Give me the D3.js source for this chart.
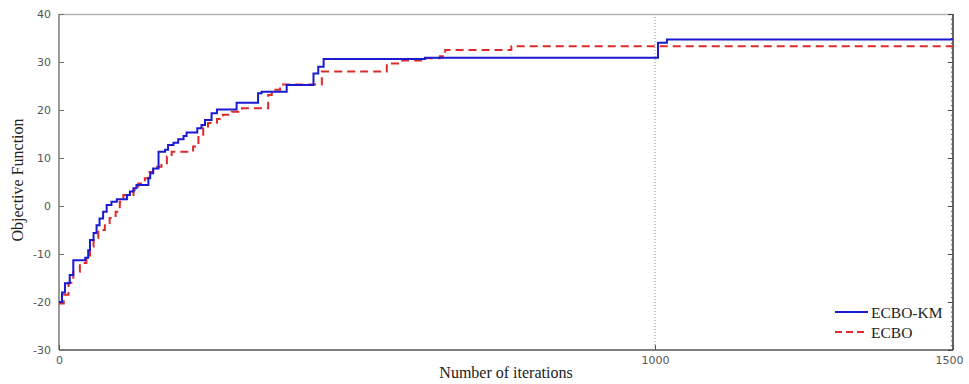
<!DOCTYPE html>
<html>
<head>
<meta charset="utf-8">
<script src="https://cdn.jsdelivr.net/npm/d3@7"></script>
<style>
  html, body { margin: 0; padding: 0; background: #fff; }
  svg { display: block; }
</style>
</head>
<body>
<svg id="chart" width="969" height="384"></svg>
<script>
// ---- data ----
const xTicks = [0, 1000, 1500];
const yTicks = [-30, -20, -10, 0, 10, 20, 30, 40];
const seriesNames = ["ECBO-KM", "ECBO"];

const ecboKmIter = [0, 5, 10, 18, 24, 44, 49, 52, 58, 63, 68, 74, 80, 88, 97, 114, 119, 125, 130, 150, 153, 158, 167, 178, 183, 192, 200, 209, 214, 232, 239, 245, 256, 265, 298, 334, 340, 382, 427, 435, 444, 614, 1005, 1020, 1500];
const ecboKmVal  = [-20, -18, -16.1, -14.4, -11.3, -10.8, -9.2, -7.1, -5.6, -4.0, -2.6, -1.2, 0.2, 0.9, 1.4, 2.3, 3.0, 3.7, 4.4, 5.8, 6.8, 7.8, 11.3, 11.7, 12.7, 13.2, 13.9, 14.6, 15.3, 16.2, 16.9, 17.9, 19.3, 20.1, 21.5, 23.5, 23.8, 25.2, 27.6, 29.0, 30.6, 30.9, 34.0, 34.7, 34.7];

const ecboIter = [0, 8, 16, 24, 35, 46, 52, 58, 66, 77, 85, 95, 102, 108, 125, 133, 144, 150, 158, 172, 181, 189, 225, 234, 242, 250, 265, 275, 290, 307, 351, 357, 371, 441, 550, 572, 614, 639, 648, 759, 1500];
const ecboVal  = [-20.3, -18.5, -16, -13.7, -11.9, -10.6, -8.5, -7.1, -5, -4, -2.5, -1.2, 0.9, 2.3, 3.3, 4.7, 5.8, 7.1, 8.2, 8.9, 10.3, 11.3, 12.4, 14.4, 16.3, 17.3, 18.1, 19.0, 19.65, 20.35, 23.1, 24.2, 25.3, 28.0, 29.7, 30.3, 30.8, 31.2, 32.5, 33.3, 33.3];

// ---- layout ----
const W = 969, H = 384;
const m = { left: 59, top: 14, right: 16, bottom: 34 };
const iw = W - m.left - m.right, ih = H - m.top - m.bottom;

const svg = d3.select("#chart");
const g = svg.append("g").attr("transform", `translate(${m.left},${m.top})`);

const x = d3.scaleLinear().domain([0, 1500]).range([0, iw]);
const y = d3.scaleLinear().domain([-30, 40]).range([ih, 0]);
const plain = d => String(d);

// dotted vertical reference line at 1000
g.append("line")
  .attr("x1", x(1000)).attr("x2", x(1000))
  .attr("y1", 0).attr("y2", ih)
  .attr("stroke", "#888").attr("stroke-width", 1)
  .attr("stroke-dasharray", "1,2");

// frame
g.append("line").attr("x1", 0).attr("x2", iw).attr("y1", 0.5).attr("y2", 0.5)
  .attr("stroke", "#b5b5b5").attr("stroke-width", 1.5);
g.append("line").attr("x1", 0).attr("x2", 0).attr("y1", 0).attr("y2", ih)
  .attr("stroke", "#7a7a7a").attr("stroke-width", 1.5);
g.append("line").attr("x1", 0).attr("x2", iw).attr("y1", ih).attr("y2", ih)
  .attr("stroke", "#555").attr("stroke-width", 1.5);
g.append("line").attr("x1", iw).attr("x2", iw).attr("y1", 0).attr("y2", ih)
  .attr("stroke", "#333").attr("stroke-width", 1.5);

// left axis (ticks inward)
const yAxis = d3.axisLeft(y).tickValues(yTicks).tickSize(-5).tickPadding(8).tickFormat(plain);
const ya = g.append("g").call(yAxis);
ya.select(".domain").remove();
ya.selectAll(".tick line").attr("stroke", "#777");
ya.selectAll("text").attr("font-family", "DejaVu Sans, sans-serif").attr("font-size", 11).attr("fill", "#555");

// right axis minor + major ticks (inward)
const yr = g.append("g").attr("transform", `translate(${iw},0)`);
yr.call(d3.axisRight(y).ticks(70).tickSize(-2).tickFormat(""));
yr.select(".domain").remove();
yr.selectAll(".tick line").attr("stroke", "#555");
const yr2 = g.append("g").attr("transform", `translate(${iw},0)`);
yr2.call(d3.axisRight(y).tickValues(yTicks).tickSize(-5).tickFormat(""));
yr2.select(".domain").remove();
yr2.selectAll(".tick line").attr("stroke", "#444");

// bottom axis (ticks inward)
const xAxis = d3.axisBottom(x).tickValues(xTicks).tickSize(-5).tickPadding(6).tickFormat(plain);
const xa = g.append("g").attr("transform", `translate(0,${ih})`).call(xAxis);
xa.select(".domain").remove();
xa.selectAll(".tick line").attr("stroke", "#555");
xa.selectAll("text").attr("font-family", "DejaVu Sans, sans-serif").attr("font-size", 11).attr("fill", "#555");
xa.selectAll(".tick").filter(d => d === 1500).select("text").attr("dx", -4);

// series
const line = d3.line().x(d => x(d[0])).y(d => y(d[1])).curve(d3.curveStepAfter);
const kmData = ecboKmIter.map((t, i) => [t, ecboKmVal[i]]);
const ecData = ecboIter.map((t, i) => [t, ecboVal[i]]);

g.append("path").datum(ecData).attr("d", line)
  .attr("fill", "none").attr("stroke", "#dd2a2a").attr("stroke-width", 2)
  .attr("stroke-dasharray", "8,5");
g.append("path").datum(kmData).attr("d", line)
  .attr("fill", "none").attr("stroke", "#1a1ad0").attr("stroke-width", 2);

// axis titles
svg.append("text").attr("x", m.left + iw / 2).attr("y", 378)
  .attr("text-anchor", "middle")
  .attr("font-family", "Liberation Serif, serif").attr("font-size", 16).attr("fill", "#222")
  .text("Number of iterations");
svg.append("text")
  .attr("transform", `translate(23,180) rotate(-90)`)
  .attr("text-anchor", "middle")
  .attr("font-family", "Liberation Serif, serif").attr("font-size", 16).attr("fill", "#222")
  .text("Objective Function");

// legend
const legend = svg.append("g");
const legStyles = [
  { color: "#1a1ad0", dash: null },
  { color: "#dd2a2a", dash: "7,4" }
];
seriesNames.forEach((name, i) => {
  const ly = 312 + i * 20;
  legend.append("line").attr("x1", 835).attr("x2", 868).attr("y1", ly).attr("y2", ly)
    .attr("stroke", legStyles[i].color).attr("stroke-width", 2)
    .attr("stroke-dasharray", legStyles[i].dash);
  legend.append("text").attr("x", 871).attr("y", ly + 5.5)
    .attr("font-family", "Liberation Serif, serif").attr("font-size", 15.5).attr("fill", "#222")
    .text(name);
});
</script>
</body>
</html>
